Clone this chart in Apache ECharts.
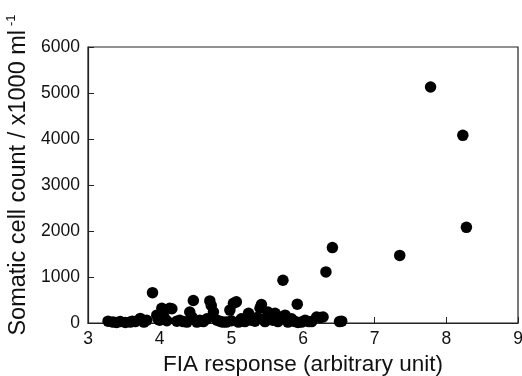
<!DOCTYPE html>
<html>
<head>
<meta charset="UTF-8">
<title>FIA vs somatic cell count</title>
<script src="https://cdn.jsdelivr.net/npm/echarts@6/dist/echarts.min.js"></script>
<style>
body{margin:0;background:#fff;}
#chart{width:522px;height:376px;}
</style>
</head>
<body>
<div id="chart"></div>
<script type="text/javascript">
// FIA response values (x) and somatic cell counts (y, x1000/ml)
var fia = [
  3.28,3.35,3.45,3.52,3.59,3.66,3.73,3.82,3.90,3.96,4.03,4.10,4.14,4.17,4.24,4.33,
  4.42,4.47,4.52,4.61,4.70,4.72,4.75,4.84,4.93,4.98,5.03,5.07,5.10,5.19,5.24,5.33,
  5.40,5.42,5.47,5.51,5.61,5.65,5.72,5.75,5.79,5.89,5.92,5.93,6.03,6.12,6.19,6.24,
  6.28,6.32,6.41,6.51,6.54,7.35,7.78,8.23,8.28,
  3.40,3.62,3.78,3.98,4.06,4.28,4.38,4.56,4.66,4.80,4.88,5.00,5.14,5.28,5.36,5.45,
  5.55,5.58,5.68,5.84,5.98,6.08,4.00,4.45,5.30,5.63
];
var scc = [
  40,20,30,10,20,30,100,60,660,170,320,50,320,310,40,30,
  240,490,20,30,480,380,240,40,20,280,430,460,20,30,210,40,
  320,400,30,240,210,30,930,170,20,30,410,10,60,30,130,120,
  130,1110,1640,30,40,1470,5130,4080,2080,
  10,40,20,80,130,60,20,60,90,60,20,50,90,60,120,80,
  140,60,110,90,20,30,60,130,100,160
];
var xTicks = [3,4,5,6,7,8,9];
var yTicks = [0,1000,2000,3000,4000,5000,6000];

var points = [];
for (var i = 0; i < fia.length; i++) {
  points.push([fia[i], scc[i]]);
}

var font = 'Liberation Sans, Arial, sans-serif';
var chart = echarts.init(document.getElementById('chart'));
var option = {
  animation: false,
  backgroundColor: '#fff',
  textStyle: {fontFamily: font, color: '#111'},
  grid: {left: 88, right: 4, top: 47, bottom: 53, show: true, borderColor: '#222', borderWidth: 1.2,
    containLabel: false, outerBoundsMode: 'none'},
  xAxis: {
    type: 'value',
    min: xTicks[0], max: xTicks[xTicks.length - 1], interval: 1,
    name: 'FIA response (arbitrary unit)',
    nameLocation: 'middle', nameGap: 29,
    nameTextStyle: {fontSize: 22.5, color: '#111'},
    axisLine: {show: true, lineStyle: {color: '#222', width: 1.2}},
    axisTick: {show: true, inside: true, length: 6, lineStyle: {color: '#222'}},
    axisLabel: {fontSize: 17.5, color: '#111', margin: 7},
    splitLine: {show: false}
  },
  yAxis: {
    type: 'value',
    min: yTicks[0], max: yTicks[yTicks.length - 1], interval: 1000,
    name: '{n|Somatic cell count / x1000 ml}{s|-1}',
    nameLocation: 'middle', nameGap: 53,
    nameTextStyle: {
      padding: [0, 0, 0, 20],
      rich: {
        n: {fontSize: 23.5, color: '#111', fontFamily: font},
        s: {fontSize: 13, color: '#111', verticalAlign: 'bottom', padding: [0, 0, 14, 4], fontFamily: font}
      }
    },
    axisLine: {show: true, lineStyle: {color: '#222', width: 1.2}},
    axisTick: {show: true, inside: true, length: 6, lineStyle: {color: '#222'}},
    axisLabel: {fontSize: 17.5, color: '#111', margin: 8, formatter: function (v) { return String(v); }},
    splitLine: {show: false}
  },
  series: [{
    type: 'scatter',
    symbol: 'circle',
    symbolSize: 11.5,
    itemStyle: {color: '#000', opacity: 1},
    data: points
  }]
};
chart.setOption(option);
</script>
</body>
</html>
